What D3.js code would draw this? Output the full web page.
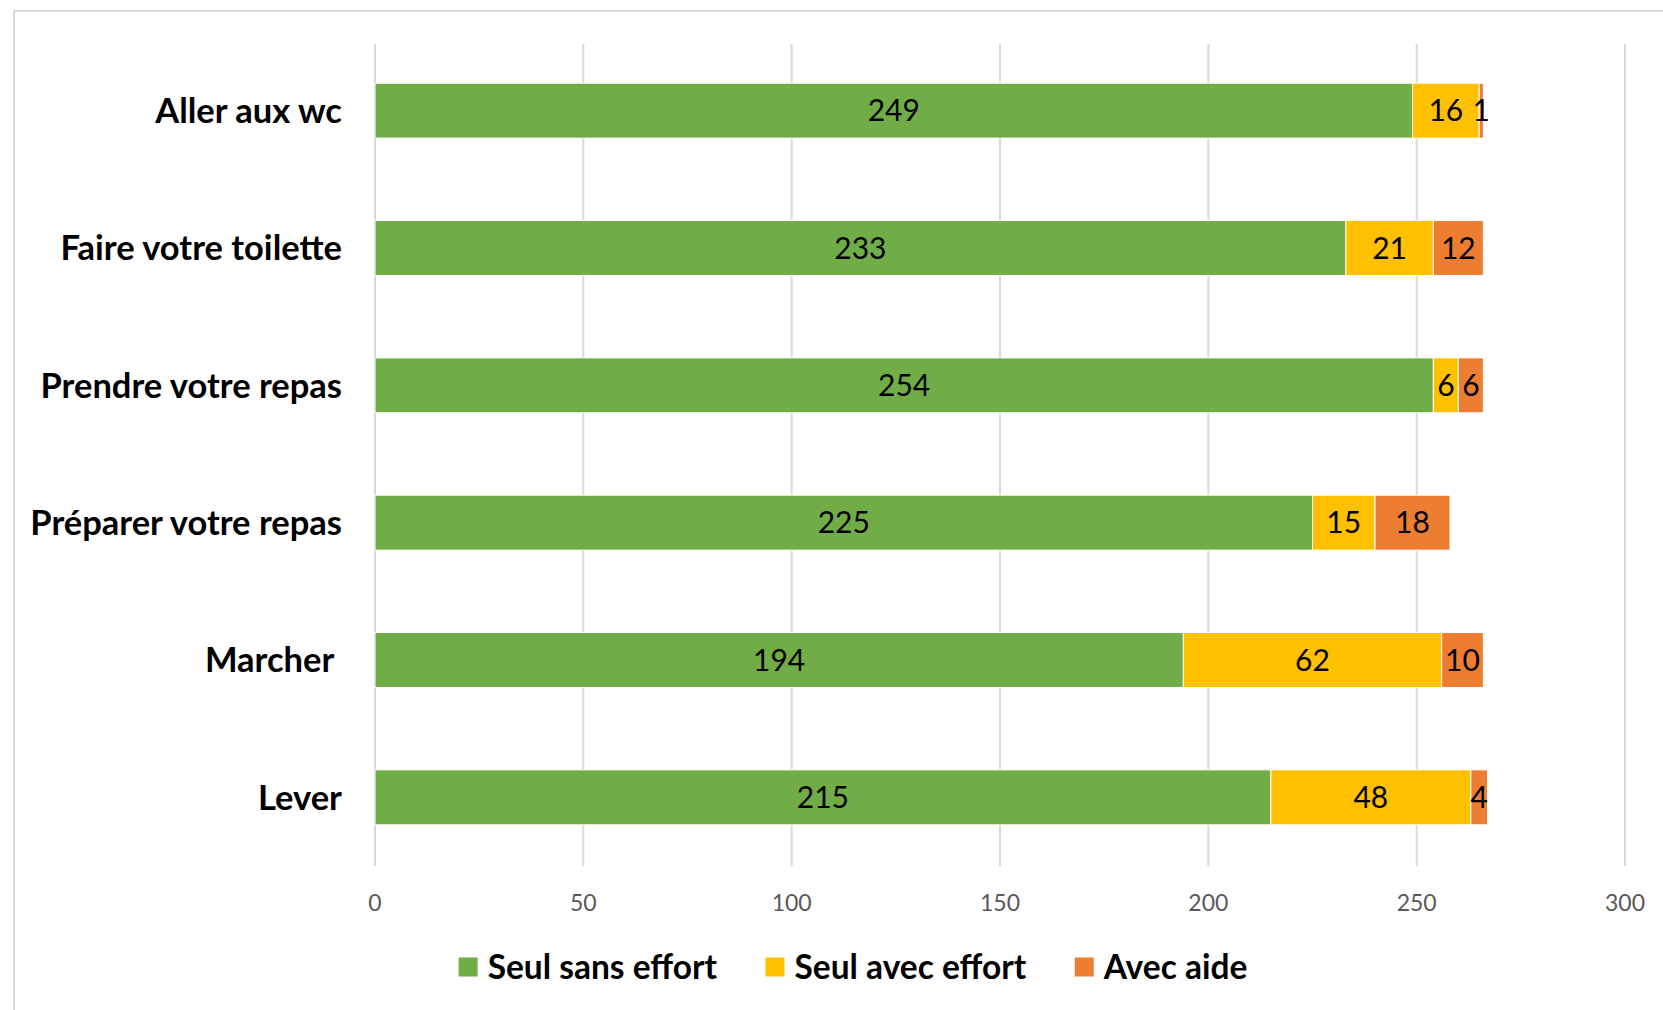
<!DOCTYPE html>
<html>
<head>
<meta charset="utf-8">
<script src="https://cdn.jsdelivr.net/npm/d3@7"></script>
<style>
  html, body { margin: 0; padding: 0; background: #fff; overflow: hidden; }
  text { font-family: Lato, "Open Sans", sans-serif; }
</style>
</head>
<body>
<div id="chart"></div>
<script>
const categories = ["Aller aux wc", "Faire votre toilette", "Prendre votre repas", "Préparer votre repas", "Marcher ", "Lever"];
const seriesNames = ["Seul sans effort", "Seul avec effort", "Avec aide"];
const seulSansEffort = [249, 233, 254, 225, 194, 215];
const seulAvecEffort = [16, 21, 6, 15, 62, 48];
const avecAide = [1, 12, 6, 18, 10, 4];
const xTicks = [0, 50, 100, 150, 200, 250, 300];
const colors = ["#70AD47", "#FFC000", "#ED7D31"];

const width = 1663, height = 1010;
const svg = d3.select("#chart").append("svg").attr("width", width).attr("height", height);

// chart border
svg.append("rect").attr("x", 14).attr("y", 11).attr("width", 1700).attr("height", 1100)
    .attr("fill", "none").attr("stroke", "#d9d9d9").attr("stroke-width", 2);

const rows = categories.map((c, i) => ({ cat: c, v0: seulSansEffort[i], v1: seulAvecEffort[i], v2: avecAide[i] }));
const stack = d3.stack().keys(["v0", "v1", "v2"])(rows);

const x = d3.scaleLinear().domain([0, 300]).range([375, 1625]);
const y = d3.scaleBand().domain(categories).range([42, 866]).paddingInner(0.6).paddingOuter(0.3);

// gridlines
svg.append("g").selectAll("line").data(xTicks).join("line")
    .attr("x1", d => x(d)).attr("x2", d => x(d))
    .attr("y1", 44).attr("y2", 866)
    .attr("stroke", "#d9d9d9").attr("stroke-width", 2);

// tick labels
svg.append("g").selectAll("text").data(xTicks).join("text")
    .attr("x", d => x(d)).attr("y", 903).attr("dy", "0.35em")
    .attr("text-anchor", "middle").attr("fill", "#595959").attr("font-size", 23)
    .text(d => d);

// bars
const layers = svg.append("g").selectAll("g").data(stack).join("g").attr("fill", (d, i) => colors[i]);
layers.selectAll("rect").data(d => d).join("rect")
    .attr("x", d => x(d[0])).attr("width", d => x(d[1]) - x(d[0]))
    .attr("y", d => y(d.data.cat)).attr("height", y.bandwidth())
    .attr("stroke", "#fff").attr("stroke-width", 1);

// data labels
const labels = svg.append("g");
stack.forEach(layer => {
    labels.selectAll(null).data(layer).join("text")
        .attr("x", d => x((d[0] + d[1]) / 2)).attr("y", d => y(d.data.cat) + y.bandwidth() / 2)
        .attr("dy", "0.36em").attr("text-anchor", "middle").attr("font-size", 30).attr("fill", "#000")
        .text(d => d[1] - d[0]);
});

// category labels
svg.append("g").selectAll("text").data(categories).join("text")
    .attr("x", 342).attr("y", d => y(d) + y.bandwidth() / 2).attr("dy", "0.36em")
    .attr("text-anchor", "end").attr("font-size", 34.5).attr("font-weight", "bold").attr("fill", "#000")
    .style("white-space", "pre")
    .text(d => d);

// legend
const legend = svg.append("g");
const items = legend.selectAll("g").data(seriesNames).join("g");
items.append("rect").attr("width", 19).attr("height", 19).attr("y", -9.5).attr("fill", (d, i) => colors[i]);
items.append("text").attr("x", 29).attr("dy", "0.36em").attr("font-size", 33.5).attr("font-weight", "bold")
    .attr("fill", "#000").text(d => d);
let offs = [], total = 0;
items.each(function () {
    const w = this.getBBox().width;
    offs.push(total);
    total += w + 48;
});
total -= 48;
const lx = 853 - total / 2;
items.attr("transform", (d, i) => `translate(${lx + offs[i]},967)`);
</script>
</body>
</html>
